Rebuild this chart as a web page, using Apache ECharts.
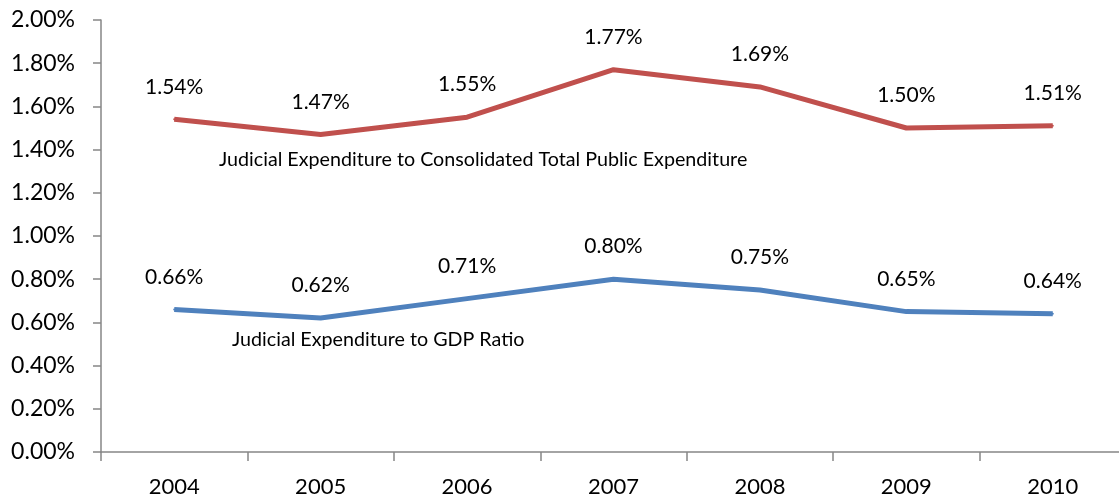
<!DOCTYPE html>
<html>
<head>
<meta charset="utf-8">
<script src="https://cdn.jsdelivr.net/npm/echarts@6/dist/echarts.min.js"></script>
<style>
html,body{margin:0;padding:0;background:#fff;}
#chart{width:1119px;height:500px;}
</style>
</head>
<body>
<div id="chart"></div>
<script>
const years = ['2004','2005','2006','2007','2008','2009','2010'];
const publicExpRatio = [1.54, 1.47, 1.55, 1.77, 1.69, 1.50, 1.51];
const gdpRatio = [0.66, 0.62, 0.71, 0.80, 0.75, 0.65, 0.64];
const seriesNames = ['Judicial Expenditure to Consolidated Total Public Expenditure', 'Judicial Expenditure to GDP Ratio'];

const FONT = 'Lato';
const chart = echarts.init(document.getElementById('chart'), null, {renderer: 'canvas'});
const labelStyle = {
  show: true, position: 'top', distance: 21,
  color: '#000', fontFamily: FONT, fontSize: 21,
  formatter: p => Number(p.value).toFixed(2) + '%'
};
chart.setOption({
  animation: false,
  backgroundColor: '#fff',
  grid: {left: 101, top: 20, height: 432, width: 1025, outerBoundsMode: 'none', containLabel: false},
  xAxis: {
    type: 'category', data: years, boundaryGap: true,
    axisLine: {lineStyle: {color: '#868686', width: 1.5}},
    axisTick: {show: true, length: 9, lineStyle: {color: '#868686', width: 1.5}},
    axisLabel: {color: '#000', fontFamily: FONT, fontSize: 22, margin: 24},
    splitLine: {show: false}
  },
  yAxis: {
    type: 'value', min: 0, max: 2, interval: 0.2,
    axisLine: {show: true, lineStyle: {color: '#868686', width: 1.5}},
    axisTick: {show: true, inside: false, length: 8, lineStyle: {color: '#868686', width: 1.5}},
    axisLabel: {color: '#000', fontFamily: FONT, fontSize: 23, margin: 26,
      formatter: v => v.toFixed(2) + '%'},
    splitLine: {show: false}
  },
  series: [
    {name: seriesNames[0], type: 'line', data: publicExpRatio, symbol: 'circle', symbolSize: 2, showSymbol: true,
      lineStyle: {color: '#C0504D', width: 5}, itemStyle: {color: '#C0504D'}, label: labelStyle},
    {name: seriesNames[1], type: 'line', data: gdpRatio, symbol: 'circle', symbolSize: 2, showSymbol: true,
      lineStyle: {color: '#4F81BD', width: 5}, itemStyle: {color: '#4F81BD'}, label: labelStyle}
  ],
  graphic: [
    {type: 'text', left: 219, top: 150, style: {text: seriesNames[0], fill: '#000', font: '19.7px ' + FONT}},
    {type: 'text', left: 232, top: 330, style: {text: seriesNames[1], fill: '#000', font: '19.7px ' + FONT}}
  ]
});
</script>
</body>
</html>
